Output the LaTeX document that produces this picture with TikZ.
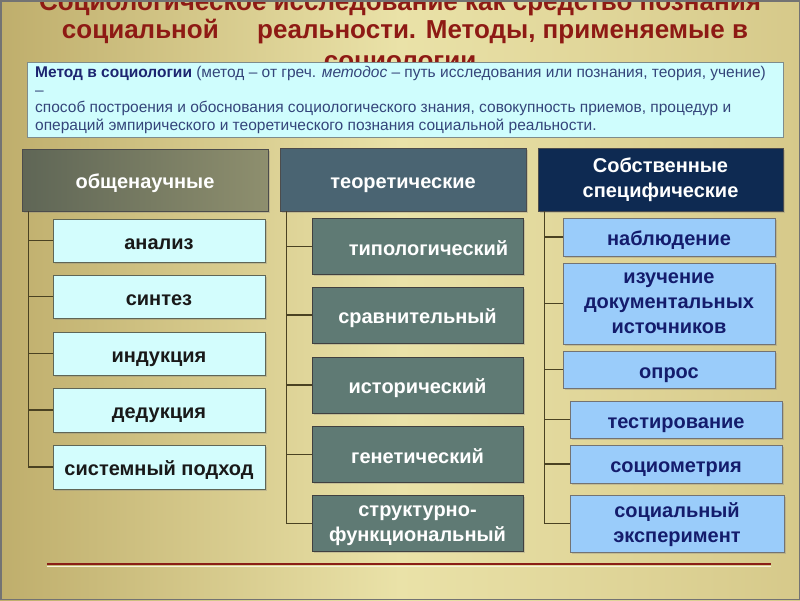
\documentclass[tikz,border=0pt]{standalone}
\usepackage{fontspec}
\setmainfont{Liberation Sans}
\usetikzlibrary{positioning,shadows}
\definecolor{bgleft}{HTML}{BFAE6C}
\definecolor{bgmid}{HTML}{EAE2A8}
\definecolor{bgright}{HTML}{D6C98A}
\definecolor{titlered}{HTML}{8E1A14}
\definecolor{infofill}{HTML}{CFFDFD}
\definecolor{infoline}{HTML}{7E8C8C}
\definecolor{infotext}{HTML}{34457A}
\definecolor{infobold}{HTML}{1C2470}
\definecolor{hOneL}{HTML}{5F6656}
\definecolor{hOneR}{HTML}{8E8F6E}
\definecolor{hTwo}{HTML}{4A6472}
\definecolor{hThree}{HTML}{0E2A52}
\definecolor{cOne}{HTML}{D3FDFD}
\definecolor{cTwo}{HTML}{5F7A74}
\definecolor{cThree}{HTML}{9ACCFA}
\definecolor{navytext}{HTML}{141C6C}
\definecolor{connline}{HTML}{4A4222}
\definecolor{redline}{HTML}{8A1E16}
\newcommand\mlines[2][-7pt]{\raisebox{#1}{\begin{tabular}{@{}c@{}}#2\end{tabular}}}
\tikzset{
  base/.style={rectangle, inner sep=0pt, align=center, font=\bfseries\fontsize{20}{25}\selectfont,
    execute at begin node={\rule{0pt}{25pt}}, execute at end node=\strut,
    drop shadow={shadow xshift=1.5pt, shadow yshift=-1.5pt, opacity=0.3}},
  headone/.style={base, draw=black!70, left color=hOneL, right color=hOneR, text=white, minimum width=246pt, minimum height=62pt},
  headtwo/.style={base, draw=black!70, fill=hTwo, text=white, minimum width=246pt, minimum height=63pt},
  headthree/.style={base, draw=black!70, fill=hThree, text=white, minimum width=245pt, minimum height=63pt},
  chone/.style={base, draw=hOneL, line width=1pt, fill=cOne, text=black!90, minimum width=212pt},
  chtwo/.style={base, draw=black!75, line width=1pt, fill=cTwo, text=white, minimum width=211pt, minimum height=56pt},
  chthree/.style={base, draw=black!55, line width=0.8pt, fill=cThree, text=navytext, minimum width=212pt},
  conn/.style={draw=connline, line width=1.2pt},
  titletext/.style={font=\bfseries\fontsize{26}{28}\selectfont, text=titlered, anchor=base, inner sep=0pt},
}
\begin{document}
\begin{tikzpicture}[x=1pt,y=-1pt]
\useasboundingbox (0,0) rectangle (800,600);
\clip (0,0) rectangle (800,600);
\shade[left color=bgleft, right color=bgright, middle color=bgmid] (0,0) rectangle (800,600);
% title
\node[titletext] (t1) at (400,10) {Социологическое исследование как средство познания};
\node[titletext] (t2) at (405,38) {социальной\hspace{1.2em} реальности. Методы, применяемые в};
\node[titletext] (t3) at (400,69) {социологии};
% info box
\node[rectangle, draw=infoline, line width=1.2pt, fill=infofill, minimum width=756pt, minimum height=75pt, anchor=north west, inner sep=0pt] (info) at (27,62) {};
\node[anchor=north west, align=left, inner sep=0pt, text=infotext, font=\fontsize{15.5}{17.5}\selectfont] (infotxt) at (35,66.5) {{\bfseries\color{infobold}Метод в социологии} (метод -- от греч. \textit{методос} -- путь исследования или познания, теория, учение)\\
--\\
способ построения и обоснования социологического знания, совокупность приемов, процедур и\\
операций эмпирического и теоретического познания социальной реальности.};
% column 1
\node[headone] (h1) at (145,180) {общенаучные};
\node[chone, minimum height=43pt] (a1) at (159,240.5) {анализ};
\node[chone, minimum height=43pt] (a2) at (159,296.5) {синтез};
\node[chone, minimum height=43pt] (a3) at (159,353.5) {индукция};
\node[chone, minimum height=44pt] (a4) at (159,410) {дедукция};
\node[chone, minimum height=44pt] (a5) at (159,467) {системный подход};
\foreach \n in {a1,a2,a3,a4,a5} \draw[conn] ([xshift=7pt]h1.south west) |- (\n.west);
% column 2
\node[headtwo] (h2) at (403,179.5) {теоретические};
\node[chtwo] (b1) at (417.5,246.5) {\hspace{1.1em}типологический};
\node[chtwo] (b2) at (417.5,315) {сравнительный};
\node[chtwo] (b3) at (417.5,385) {исторический};
\node[chtwo] (b4) at (417.5,454.5) {генетический};
\node[chtwo] (b5) at (417.5,523.5) {\mlines{структурно-\\функциональный}};
\foreach \n in {b1,b2,b3,b4,b5} \draw[conn] ([xshift=7pt]h2.south west) |- (\n.west);
% column 3
\node[headthree] (h3) at (660.5,179.5) {\mlines{Собственные\\специфические}};
\node[chthree, minimum height=38pt] (c1) at (669,237) {наблюдение};
\node[chthree, minimum height=81pt] (c2) at (669,303.5) {\mlines[-5pt]{изучение\\документальных\\источников}};
\node[chthree, minimum height=37pt] (c3) at (669,369.5) {опрос};
\node[chthree, minimum height=37pt] (c4) at (676,419.5) {тестирование};
\node[chthree, minimum height=38pt] (c5) at (676,464) {социометрия};
\node[chthree, minimum height=57pt, minimum width=214pt] (c6) at (677,523.5) {\mlines[-8pt]{социальный\\эксперимент}};
\foreach \n in {c1,c2,c3,c4,c5,c6} \draw[conn] ([xshift=7pt]h3.south west) |- (\n.west);
% bottom rule
\draw[draw=white!60!bgmid, line width=1.5pt] (47,566.5) -- (771,566.5);
\draw[draw=redline, line width=2pt] (47,564) -- (771,564);
% frame
\draw[draw=black!55, line width=1.5pt] (0.75,0.75) rectangle (799.25,599.25);
\end{tikzpicture}
\end{document}
